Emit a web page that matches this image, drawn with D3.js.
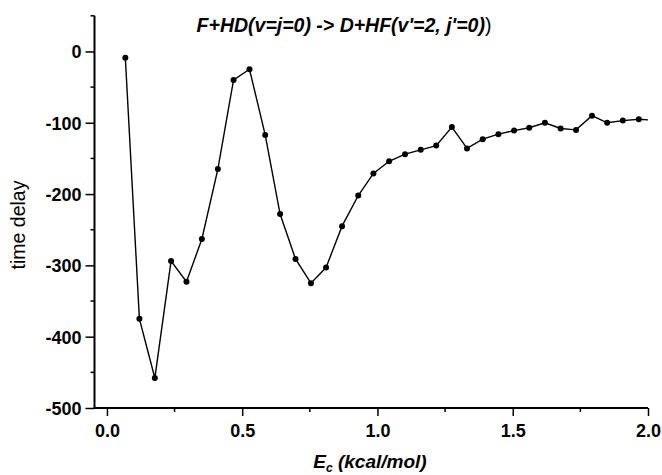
<!DOCTYPE html>
<html>
<head>
<meta charset="utf-8">
<script src="https://cdn.jsdelivr.net/npm/d3@7"></script>
<style>
  html, body { margin: 0; padding: 0; background: #fff; }
  svg { display: block; font-family: "Liberation Sans", Arial, sans-serif; }
</style>
</head>
<body>
<div id="chart"></div>
<script>
// time delay vs collision energy
var energy = [0.068, 0.12, 0.177, 0.237, 0.294, 0.351, 0.41, 0.468, 0.527, 0.585,
  0.64, 0.697, 0.754, 0.81, 0.869, 0.929, 0.985, 1.043, 1.102, 1.160,
  1.217, 1.275, 1.331, 1.389, 1.447, 1.505, 1.561, 1.619, 1.677, 1.734,
  1.793, 1.849, 1.907, 1.966];
var delay = [-9, -375, -458, -294, -323, -263, -165, -40, -25, -117,
  -228, -291, -325, -303, -245, -202, -171, -154, -144, -138,
  -132, -106, -136, -123, -116, -111, -107, -100, -108, -110,
  -90, -100, -97, -95];
// the curve runs on to the edge of the frame without a marker
var lineEnd = [2.0, -96];

var xTicks = [0, 0.5, 1.0, 1.5, 2.0];
var xMinor = [0.25, 0.75, 1.25, 1.75];
var yTicks = [0, -100, -200, -300, -400, -500];
var yMinor = [50, -50, -150, -250, -350, -450];

(function() {
  'use strict';
  var width = 662, height = 475;

  var svg = d3.select('#chart').append('svg').attr('width', width).attr('height', height);

  var x = d3.scaleLinear().domain([-0.046, 2.0]).range([94.5, 648]);
  var y = d3.scaleLinear().domain([-500, 50]).range([408, 15.8]);

  var pts = energy.map(function(e, i) { return [e, delay[i]]; });
  var linePts = pts.concat([lineEnd]);

  // axes (left + bottom only)
  var xAxis = svg.append('g').attr('transform', 'translate(0,' + y(-500) + ')')
    .call(d3.axisBottom(x).tickValues(xTicks).tickSize(8).tickFormat(d3.format('.1f')));
  xAxis.select('.domain').remove();
  xAxis.append('g').selectAll('line').data(xMinor).enter().append('line')
    .attr('x1', function(d) { return x(d); }).attr('x2', function(d) { return x(d); })
    .attr('y1', 0).attr('y2', 4).attr('stroke', '#000').attr('stroke-width', 1.5);

  // plain hyphen minus like the original, not the unicode one
  var yAxis = svg.append('g').attr('transform', 'translate(' + x(-0.046) + ',0)')
    .call(d3.axisLeft(y).tickValues(yTicks).tickSize(9).tickFormat(function(d) { return String(d); }));
  yAxis.select('.domain').remove();
  yAxis.append('g').selectAll('line').data(yMinor).enter().append('line')
    .attr('y1', function(d) { return y(d); }).attr('y2', function(d) { return y(d); })
    .attr('x1', 0).attr('x2', -4).attr('stroke', '#000').attr('stroke-width', 1.5);

  svg.selectAll('.tick line').attr('stroke', '#000').attr('stroke-width', 1.5);
  svg.selectAll('.tick text').attr('fill', '#000').attr('font-size', '18px')
    .attr('font-weight', 'bold').attr('font-family', '"Liberation Sans", Arial, sans-serif');
  xAxis.selectAll('.tick text').attr('dy', null).attr('y', 29);
  yAxis.selectAll('.tick text').attr('x', -13).attr('dy', '0.36em');

  svg.append('line').attr('x1', x(-0.046)).attr('x2', x(-0.046))
    .attr('y1', y(50)).attr('y2', y(-500) + 1).attr('stroke', '#000').attr('stroke-width', 2);
  svg.append('line').attr('x1', x(-0.046) - 1).attr('x2', x(2.0))
    .attr('y1', y(-500)).attr('y2', y(-500)).attr('stroke', '#000').attr('stroke-width', 2);

  // data
  var line = d3.line().x(function(d) { return x(d[0]); }).y(function(d) { return y(d[1]); });
  svg.append('path').datum(linePts).attr('d', line)
    .attr('fill', 'none').attr('stroke', '#000').attr('stroke-width', 1.4);
  svg.selectAll('.dot').data(pts).enter().append('circle').attr('class', 'dot')
    .attr('cx', function(d) { return x(d[0]); }).attr('cy', function(d) { return y(d[1]); })
    .attr('r', 3).attr('fill', '#000');

  // title
  var title = svg.append('text').attr('x', 344).attr('y', 32).attr('text-anchor', 'middle')
    .attr('font-size', '19.5px').attr('font-weight', 'bold').attr('font-style', 'italic');
  title.append('tspan').text("F+HD(v=j=0) -> D+HF(v'=2, j'=0)");
  title.append('tspan').attr('font-weight', 'normal').attr('font-style', 'normal').text(')');

  // axis titles
  svg.append('text').attr('transform', 'translate(25,225) rotate(-90)')
    .attr('text-anchor', 'middle').attr('font-size', '19.5px').text('time delay');

  var xl = svg.append('text').attr('x', 370).attr('y', 468).attr('text-anchor', 'middle')
    .attr('font-size', '19px').attr('font-weight', 'bold').attr('font-style', 'italic');
  xl.append('tspan').text('E');
  xl.append('tspan').attr('font-size', '12px').attr('dy', 4).text('c');
  xl.append('tspan').attr('dy', -4).text(' (kcal/mol)');
})();
</script>
</body>
</html>
